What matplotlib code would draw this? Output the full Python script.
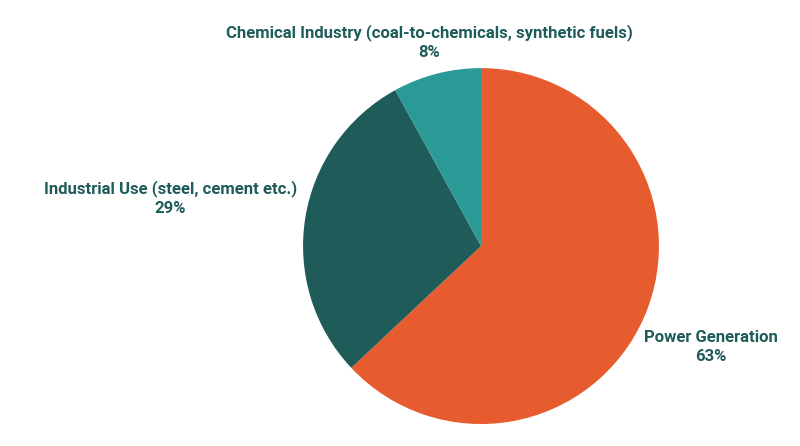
import matplotlib.pyplot as plt

labels = ["Power Generation", "Industrial Use (steel, cement etc.)",
          "Chemical Industry (coal-to-chemicals, synthetic fuels)"]
shares = [63, 29, 8]
colors = ["#E65C2F", "#1F5B59", "#2A9A96"]
text_color = "#1E5C59"

plt.rcParams['font.family'] = ['Roboto', 'DejaVu Sans']

fig = plt.figure(figsize=(8, 4.46), dpi=100)
ax = fig.add_axes([0.37875, 0.0493, 0.445, 0.798])

ax.pie(shares, colors=colors, startangle=90, counterclock=False,
       wedgeprops=dict(linewidth=0))
ax.set_xlim(-1, 1)
ax.set_ylim(-1, 1)
ax.set_aspect('equal')

# label spots (data coords, radius = 1)
spots = [(1.292, -0.567), (-1.747, 0.27), (-0.29, 1.146)]
for lab, val, (x, y) in zip(labels, shares, spots):
    ax.text(x, y, f"{lab}\n{val}%", ha='center', va='center',
            fontsize=12, fontweight='bold', color=text_color,
            linespacing=1.4, clip_on=False)

fig.savefig("out.png", dpi=100)
